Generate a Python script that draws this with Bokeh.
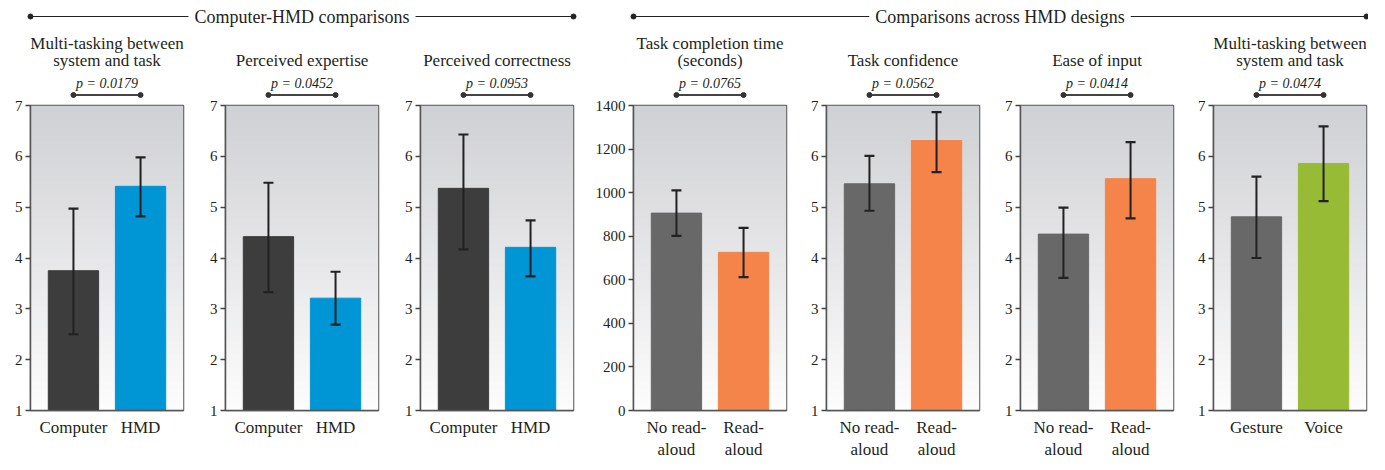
import numpy as np
from bokeh.plotting import figure
from bokeh.layouts import row, column
from bokeh.models import Range1d, FixedTicker, ColumnDataSource
from bokeh.embed import file_html
from bokeh.resources import INLINE
from bokeh.core.properties import value

# ---------------- data ----------------
group_titles = ["Computer-HMD comparisons", "Comparisons across HMD designs"]
group_members = [[0, 1, 2], [3, 4, 5, 6]]
panel_titles = [
    ["Multi-tasking between", "system and task"],
    ["Perceived expertise"],
    ["Perceived correctness"],
    ["Task completion time", "(seconds)"],
    ["Task confidence"],
    ["Ease of input"],
    ["Multi-tasking between", "system and task"],
]
categories = [
    ["Computer", "HMD"],
    ["Computer", "HMD"],
    ["Computer", "HMD"],
    ["No read-\naloud", "Read-\naloud"],
    ["No read-\naloud", "Read-\naloud"],
    ["No read-\naloud", "Read-\naloud"],
    ["Gesture", "Voice"],
]
means = [[3.75, 5.41], [4.42, 3.21], [5.37, 4.21], [906, 726],
         [5.46, 6.31], [4.47, 5.56], [4.81, 5.86]]
err_low = [[2.50, 4.82], [3.33, 2.69], [4.17, 3.64], [802, 612],
           [4.93, 5.69], [3.61, 4.78], [4.00, 5.12]]
err_high = [[4.97, 5.98], [5.48, 3.73], [6.43, 4.74], [1010, 838],
            [6.01, 6.87], [4.99, 6.28], [5.60, 6.59]]
p_values = ["0.0179", "0.0452", "0.0953", "0.0765", "0.0562", "0.0414", "0.0474"]
y_limits = [(1, 7), (1, 7), (1, 7), (0, 1400), (1, 7), (1, 7), (1, 7)]
y_ticks = [list(range(1, 8))] * 3 + [list(range(0, 1401, 200))] + [list(range(1, 8))] * 3

# ---------------- styles / layout ----------------
bar_colors = [["#3d3d3d", "#0096d6"]] * 3 + [["#686868", "#f4844a"]] * 3 + [["#686868", "#97bb35"]]
FONT = "Liberation Serif"
TXT = "#231f20"
FRAME_W, FRAME_H = 153, 305
HEAD_H, TOP_H, MAIN_TOP_B, BOTTOM_B = 28, 70, 7, 44
frame_left = [30, 225, 420, 633, 826, 1020, 1213]
R_B = 4
TOTAL_W = frame_left[-1] + FRAME_W + 2

# gradient image (bottom -> top)
n = 128
tt = np.linspace(0, 1, n)[:, None]
bot = np.array([253, 253, 253]); topc = np.array([208, 209, 212])
rgb = (bot + (topc - bot) * tt).astype(np.uint8)
grad = np.empty((n, 1), dtype=np.uint32)
v = grad.view(dtype=np.uint8).reshape((n, 1, 4))
v[:, 0, 0] = rgb[:, 0]; v[:, 0, 1] = rgb[:, 1]; v[:, 0, 2] = rgb[:, 2]; v[:, 0, 3] = 255

xpos = [1, 2]
X0, X1 = 0.36, 2.64

cols = []
for i in range(7):
    L = frame_left[i] - (0 if i == 0 else frame_left[i - 1] + FRAME_W + R_B)
    R = 2 if i == 6 else R_B
    xr = Range1d(X0, X1)

    # top area: titles, p-value, bracket
    t = figure(x_range=xr, y_range=Range1d(TOP_H, 0), frame_width=FRAME_W, frame_height=TOP_H,
               min_border_left=L, min_border_right=R, min_border_top=0, min_border_bottom=0,
               x_axis_location=None, y_axis_location=None, toolbar_location=None,
               output_backend="svg", outline_line_color=None)
    t.xgrid.visible = False
    t.ygrid.visible = False
    lines = panel_titles[i]
    ys = [32 - 17 * (len(lines) - 1 - k) for k in range(len(lines))]
    t.text(x=[1.5] * len(lines), y=ys, text=lines, text_align="center", text_baseline="middle",
           text_font=value(FONT), text_font_size="17px", text_color=TXT)
    t.text(x=[1.5], y=[55], text=["p = " + p_values[i]], text_align="center", text_baseline="middle",
           text_font=value(FONT), text_font_size="14px", text_font_style="italic", text_color=TXT)
    t.segment(x0=[xpos[0]], x1=[xpos[1]], y0=[66.5], y1=[66.5], line_color="#444444", line_width=2)
    t.scatter(x=xpos, y=[66.5, 66.5], size=5, color="#333333")

    # main plot
    y0, y1 = y_limits[i]
    p = figure(x_range=xr, y_range=Range1d(y0, y1), frame_width=FRAME_W, frame_height=FRAME_H,
               min_border_left=L, min_border_right=R, min_border_top=MAIN_TOP_B,
               min_border_bottom=BOTTOM_B, toolbar_location=None, output_backend="svg",
               outline_line_color="#555555", outline_line_width=1.5)
    p.xgrid.visible = False
    p.ygrid.visible = False
    p.image_rgba(image=[grad], x=X0, y=y0, dw=X1 - X0, dh=y1 - y0)
    src = ColumnDataSource(dict(x=xpos, top=means[i], lo=err_low[i], hi=err_high[i],
                                color=bar_colors[i]))
    p.vbar(x="x", top="top", bottom=y0, width=0.75, fill_color="color", line_color="color",
           source=src)
    p.segment(x0="x", x1="x", y0="lo", y1="hi", line_color="#222222", line_width=2, source=src)
    p.scatter(x="x", y="lo", marker="dash", size=10, line_color="#222222", line_width=2.2, source=src)
    p.scatter(x="x", y="hi", marker="dash", size=10, line_color="#222222", line_width=2.2, source=src)

    p.yaxis.ticker = FixedTicker(ticks=y_ticks[i])
    p.yaxis.minor_tick_line_color = None
    p.yaxis.major_tick_out = 5
    p.yaxis.major_tick_in = 0
    p.yaxis.major_tick_line_color = "#444444"
    p.yaxis.major_tick_line_width = 1.5
    p.yaxis.axis_line_color = "#555555"
    p.yaxis.axis_line_width = 1.5
    p.yaxis.major_label_text_font = FONT
    p.yaxis.major_label_text_font_size = "15px"
    p.yaxis.major_label_text_color = TXT
    p.yaxis.major_label_standoff = 3

    p.xaxis.ticker = FixedTicker(ticks=xpos)
    p.xaxis.major_label_overrides = {xpos[0]: categories[i][0], xpos[1]: categories[i][1]}
    p.xaxis.minor_tick_line_color = None
    p.xaxis.major_tick_out = 0
    p.xaxis.major_tick_in = 0
    p.xaxis.axis_line_color = "#555555"
    p.xaxis.axis_line_width = 1.5
    p.xaxis.major_label_text_font = FONT
    p.xaxis.major_label_text_font_size = "17px"
    p.xaxis.major_label_text_color = TXT
    p.xaxis.major_label_standoff = 7

    cols.append(column(t, p))

# header
h = figure(x_range=Range1d(0, TOTAL_W), y_range=Range1d(HEAD_H, 0), width=TOTAL_W, height=HEAD_H,
           min_border=0, x_axis_location=None, y_axis_location=None, toolbar_location=None,
           output_backend="svg", outline_line_color=None)
h.xgrid.visible = False
h.ygrid.visible = False
for g, members in enumerate(group_members):
    gx0 = frame_left[members[0]]
    gx1 = frame_left[members[-1]] + FRAME_W
    h.segment(x0=[gx0], x1=[gx1], y0=[16], y1=[16], line_color="#222222", line_width=1.2)
    h.scatter(x=[gx0, gx1], y=[16, 16], size=5, color="#222222")
    h.text(x=[(gx0 + gx1) / 2], y=[16], text=[group_titles[g]], text_align="center",
           text_baseline="middle", text_font=value(FONT), text_font_size="18px", text_color=TXT,
           background_fill_color="white", padding=6)

layout = column(h, row(*cols))
open("out.html", "w").write(file_html(layout, INLINE))
